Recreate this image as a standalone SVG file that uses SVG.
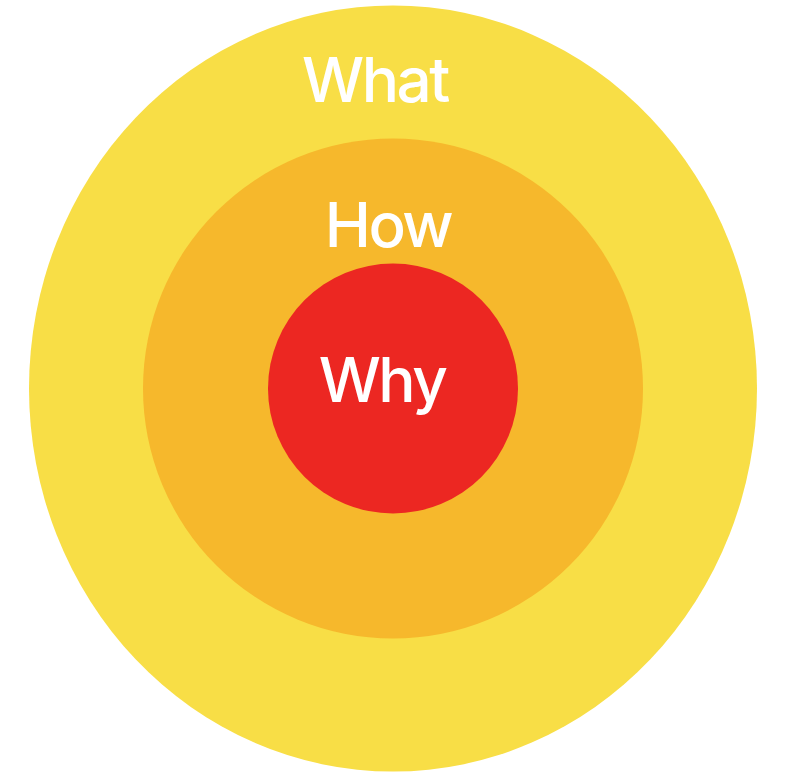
<svg xmlns="http://www.w3.org/2000/svg" width="786" height="782" viewBox="0 0 786 782">
<style>
.lbl{font-family:Inter,"Liberation Sans",Arial,sans-serif;font-size:62px;fill:#ffffff;text-anchor:middle;font-weight:500;letter-spacing:-2.5px}
</style>
<rect width="786" height="782" fill="#ffffff"/>
<g id="what">
<ellipse cx="393" cy="388.5" rx="364" ry="383" fill="#F8DE46"/>
<text class="lbl" x="375" y="102">What</text>
</g>
<g id="how">
<circle cx="393" cy="388.5" r="250" fill="#F6B82C"/>
<text class="lbl" x="388" y="247">How</text>
</g>
<g id="why">
<circle cx="393" cy="388.5" r="125" fill="#EC2722"/>
<text class="lbl" x="382" y="402">Why</text>
</g>
<g id="connectors"/>
</svg>
